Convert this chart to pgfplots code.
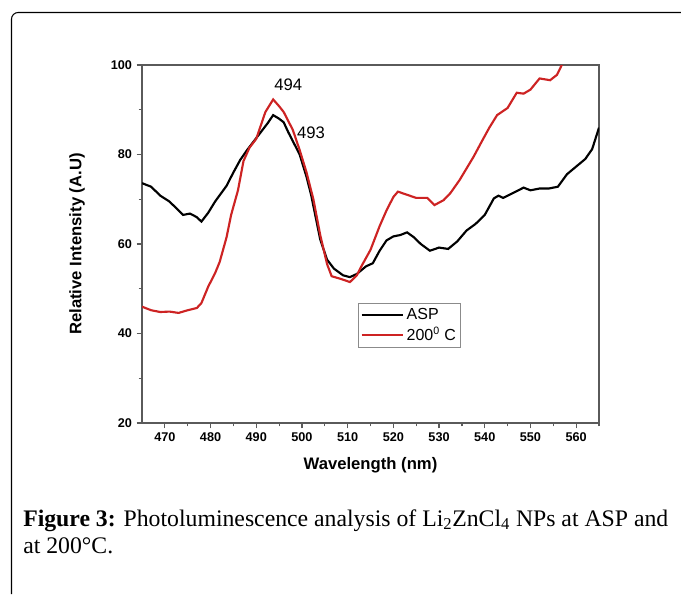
\documentclass[border=0pt]{standalone}
\usepackage{pgfplots}
\pgfplotsset{compat=1.18}
\usepackage{fontspec}
\setmainfont{Liberation Serif}
\setsansfont{Liberation Sans}
\definecolor{plred}{RGB}{205,35,35}
\definecolor{frame}{RGB}{90,90,90}

\begin{document}
\begin{tikzpicture}[x=0.75pt,y=-0.75pt]
\path[use as bounding box] (0,0) rectangle (681,594);
% outer frame of the figure box
\draw[line width=0.8pt, rounded corners=5pt] (11.5,594) -- (11.5,12.5) -- (681,12.5);

\begin{axis}[
    at={(106.5pt,-48.75pt)}, anchor=north west,
    scale only axis,
    width=342.75pt, height=268.5pt,
    xmin=465, xmax=565, ymin=20, ymax=100,
    xtick={470,480,...,560}, minor xtick={475,485,...,565},
    ytick={20,40,...,100}, minor ytick={30,50,70,90},
    tick pos=left, tick align=outside,
    major tick length=4pt, minor tick length=2.5pt,
    axis line style={draw=frame, line width=1pt},
    every tick/.style={draw=frame, line width=0.9pt},
    /pgf/number format/assume math mode=true,
    /pgf/number format/1000 sep={},
    tick label style={font=\sffamily\bfseries\fontsize{9.5}{10}\selectfont},
    xlabel={Wavelength (nm)},
    ylabel={Relative Intensity (A.U)},
    label style={font=\sffamily\bfseries\fontsize{12.5}{13}\selectfont},
    xlabel style={at={(axis description cs:0.5,-0.117)}, anchor=center},
    ylabel style={at={(axis description cs:-0.142,0.5)}, anchor=center, rotate=0},
    legend style={at={(axis description cs:0.473,0.335)}, anchor=north west,
        draw=frame!70, line width=0.6pt, inner sep=1.5pt, row sep=0.5pt,
        font=\sffamily\fontsize{12}{13}\selectfont},
    legend cell align=left,
    legend image code/.code={\draw[#1] (0pt,0pt) -- (31pt,0pt);},
    clip=true,
]
\addplot[black, line width=1.6pt] coordinates {
(465,73.6) (467,72.8) (469,70.8) (471,69.5) (473,67.5) (474,66.5) (475.5,66.8)
(477,66.0) (478,65.0) (479.5,67.0) (481,69.5) (483.5,73.0) (485,76.0) (486.5,78.8)
(488,81.0) (489.5,83.0) (491,85.0) (492.5,87.0) (493.7,88.8) (495,88.0) (496,87.2)
(497,85.0) (498,83.0) (499.5,80.0) (501,75.0) (502,71.0) (503,66.0) (504,61.0)
(505.5,56.5) (507,54.5) (509,53.0) (510.5,52.6) (512,53.3) (514,55.0) (515.5,55.7)
(517,58.5) (518.5,60.8) (520,61.7) (521.5,62.0) (523,62.6) (524.5,61.5) (526,60.0)
(528,58.5) (530,59.2) (532,58.9) (534,60.6) (536,63.0) (538,64.5) (540,66.5)
(542,70.2) (543,70.8) (544,70.3) (546,71.3) (548.5,72.6) (550,72.0) (552,72.4)
(554,72.4) (556,72.8) (558,75.6) (560,77.3) (562,79.0) (563.5,81.2) (565,86.0)
};
\addlegendentry{ASP}
\addplot[plred, line width=1.6pt] coordinates {
(465,46.0) (467,45.2) (469,44.8) (471,44.9) (473,44.6) (475,45.2) (477,45.7)
(478,46.8) (479.5,50.5) (481,53.5) (482,56.0) (483.5,61.5) (484.5,66.5) (486,72.0)
(487.2,78.5) (488.5,81.5) (490,83.5) (491,86.5) (492,89.5) (493.7,92.3) (495,90.8)
(496,89.5) (497,87.5) (498,85.5) (499.5,81.0) (501,76.0) (502.5,70.0) (504,62.0)
(505.5,55.5) (506.5,52.8) (508.5,52.2) (510.5,51.5) (512,53.0) (513,55.0) (515,58.7)
(517,64.0) (518.5,67.5) (520,70.5) (521,71.7) (523,71.0) (525,70.3) (527.4,70.3)
(529,68.7) (531,69.8) (532.5,71.4) (534.5,74.3) (537.5,79.4) (539.5,83.2) (541,86.0)
(542.7,88.8) (545,90.4) (547,93.8) (548.5,93.6) (550,94.5) (552,97.0) (554.3,96.6)
(555.8,97.8) (557,100.3)
};
\addlegendentry{200\textsuperscript{0} C}

\node[font=\sffamily\fontsize{12.5}{13}\selectfont] at (axis cs:497,95.5) {494};
\node[font=\sffamily\fontsize{12.5}{13}\selectfont] at (axis cs:502,84.8) {493};
\end{axis}

\node[anchor=base west, align=left, inner sep=0pt, font=\fontsize{17.8}{20.25}\selectfont]
  at (23,553) {\textbf{Figure 3:} Photoluminescence analysis of Li\textsubscript{2}ZnCl\textsubscript{4} NPs at ASP and\\
  at 200°C.};
\end{tikzpicture}
\end{document}
